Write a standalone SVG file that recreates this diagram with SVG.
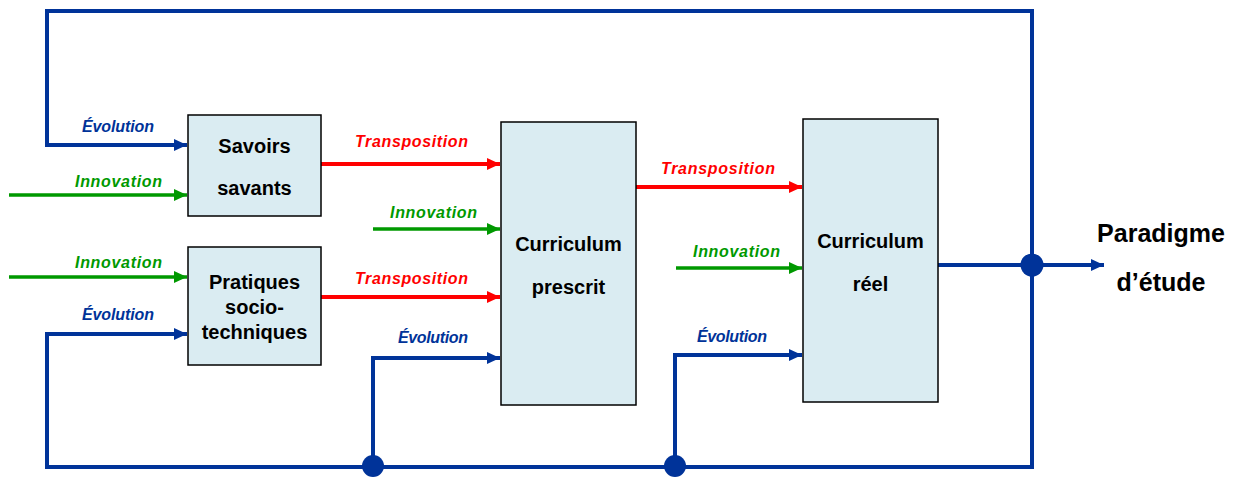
<svg xmlns="http://www.w3.org/2000/svg" width="1242" height="477" viewBox="0 0 1242 477">
<style>
.box{fill:#DAECF2;stroke:#000;stroke-width:1.5}
.bt{font-family:"Liberation Sans",Arial,sans-serif;font-weight:bold;font-size:20px;fill:#000;text-anchor:middle}
.out{font-family:"Liberation Sans",Arial,sans-serif;font-weight:bold;font-size:25px;fill:#000;text-anchor:middle}
.lb{font-family:"Liberation Sans",Arial,sans-serif;font-weight:bold;font-style:italic;font-size:16px}
.blue{stroke:#003399;stroke-width:4;fill:none}
.red{stroke:#FF0000;stroke-width:4;fill:none}
.green{stroke:#009900;stroke-width:3.5;fill:none}
.tb{fill:#003399}.tr{fill:#FF0000}.tg{fill:#009900}
</style>
<defs>
<marker id="ab" markerUnits="userSpaceOnUse" markerWidth="14" markerHeight="14" refX="13" refY="7" orient="auto"><path d="M0,1 L13,7 L0,13 Z" fill="#003399"/></marker>
<marker id="ar" markerUnits="userSpaceOnUse" markerWidth="14" markerHeight="14" refX="13" refY="7" orient="auto"><path d="M0,1 L13,7 L0,13 Z" fill="#FF0000"/></marker>
<marker id="ag" markerUnits="userSpaceOnUse" markerWidth="14" markerHeight="14" refX="13" refY="7" orient="auto"><path d="M0,1 L13,7 L0,13 Z" fill="#009900"/></marker>
</defs>
<g id="connectors">
<polyline class="blue" points="1032,265 1032,11 47,11 47,145 187,145" marker-end="url(#ab)"/>
<polyline class="blue" points="1032,265 1032,467 47,467 47,334 187,334" marker-end="url(#ab)"/>
<polyline class="blue" points="373,467 373,358 500,358" marker-end="url(#ab)"/>
<polyline class="blue" points="675,467 675,355 802,355" marker-end="url(#ab)"/>
<line class="blue" x1="937" y1="265" x2="1104" y2="265" marker-end="url(#ab)"/>
<circle cx="1032" cy="265" r="11.5" fill="#003399"/>
<circle cx="373" cy="466" r="11" fill="#003399"/>
<circle cx="675" cy="466" r="11" fill="#003399"/>
<line class="green" x1="9" y1="195" x2="187" y2="195" marker-end="url(#ag)"/>
<line class="green" x1="9" y1="277" x2="187" y2="277" marker-end="url(#ag)"/>
<line class="green" x1="373" y1="229" x2="500" y2="229" marker-end="url(#ag)"/>
<line class="green" x1="676" y1="268" x2="802" y2="268" marker-end="url(#ag)"/>
<line class="red" x1="321" y1="164" x2="500" y2="164" marker-end="url(#ar)"/>
<line class="red" x1="321" y1="297" x2="500" y2="297" marker-end="url(#ar)"/>
<line class="red" x1="636" y1="187" x2="802" y2="187" marker-end="url(#ar)"/>
<text class="lb tb" x="82" y="132" textLength="72">Évolution</text>
<text class="lb tg" x="75" y="187" textLength="87">Innovation</text>
<text class="lb tg" x="75" y="268" textLength="87">Innovation</text>
<text class="lb tb" x="82" y="320" textLength="72">Évolution</text>
<text class="lb tr" x="355" y="147" textLength="113">Transposition</text>
<text class="lb tg" x="390" y="218" textLength="87">Innovation</text>
<text class="lb tr" x="355" y="284" textLength="113">Transposition</text>
<text class="lb tb" x="398" y="343" textLength="70">Évolution</text>
<text class="lb tr" x="661" y="174" textLength="114">Transposition</text>
<text class="lb tg" x="693" y="257" textLength="87">Innovation</text>
<text class="lb tb" x="697" y="342" textLength="70">Évolution</text>
</g>
<g id="savoirs">
<rect class="box" x="188" y="115" width="133" height="101"/>
<text class="bt" x="254.5" y="153">Savoirs</text>
<text class="bt" x="254.5" y="195">savants</text>
</g>
<g id="pratiques">
<rect class="box" x="188" y="247" width="133" height="118"/>
<text class="bt" x="254.5" y="289">Pratiques</text>
<text class="bt" x="254.5" y="314">socio-</text>
<text class="bt" x="254.5" y="339">techniques</text>
</g>
<g id="prescrit">
<rect class="box" x="501" y="122" width="135" height="283"/>
<text class="bt" x="568.5" y="251">Curriculum</text>
<text class="bt" x="568.5" y="294">prescrit</text>
</g>
<g id="reel">
<rect class="box" x="803" y="119" width="135" height="283"/>
<text class="bt" x="870.5" y="248">Curriculum</text>
<text class="bt" x="870.5" y="291">réel</text>
</g>
<g id="paradigme">
<text class="out" x="1161" y="242">Paradigme</text>
<text class="out" x="1161" y="291">d’étude</text>
</g>
</svg>
